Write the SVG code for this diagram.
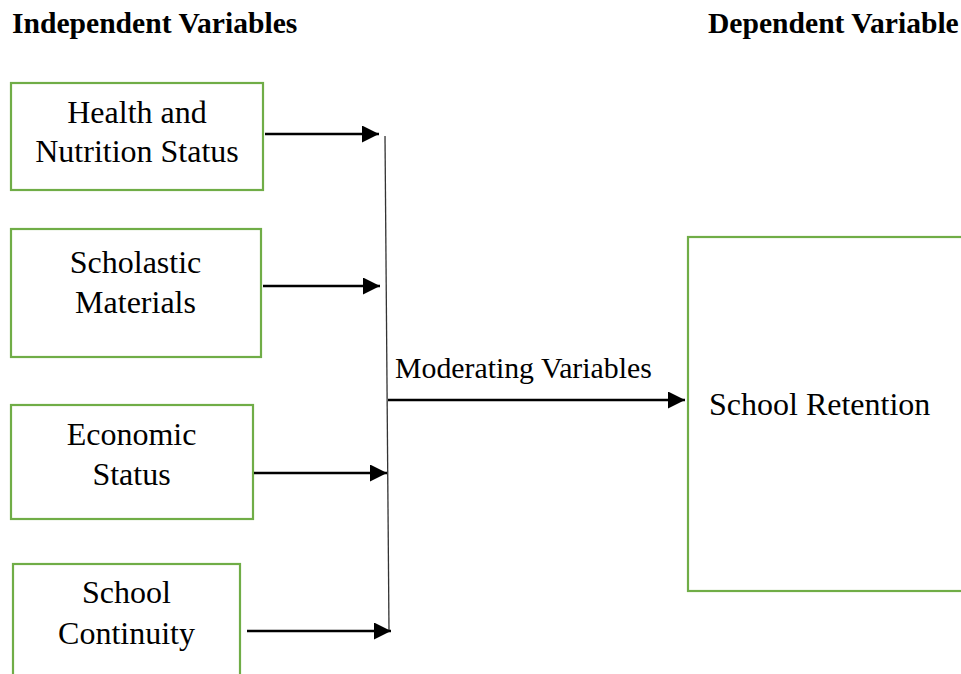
<svg xmlns="http://www.w3.org/2000/svg" width="961" height="674" viewBox="0 0 961 674">
  <style>
    .box { fill: #ffffff; stroke: #70ad47; stroke-width: 2.2; }
    .lbl { font-family: "Liberation Serif", "Times New Roman", serif; font-size: 32px; fill: #000000; text-anchor: middle; }
    .head { font-family: "Liberation Serif", "Times New Roman", serif; font-size: 29.6px; font-weight: bold; fill: #000000; }
    .mod { font-family: "Liberation Serif", "Times New Roman", serif; font-size: 29.8px; fill: #000000; }
    .arrow { stroke: #000000; stroke-width: 2.4; fill: none; marker-end: url(#head); }
    .bar { stroke: #333333; stroke-width: 1.3; fill: none; }
  </style>
  <defs>
    <marker id="head" markerUnits="userSpaceOnUse" markerWidth="18" markerHeight="17" refX="17" refY="8.5" orient="auto">
      <path d="M0,0 L17,8.5 L0,17 Z" fill="#000000"/>
    </marker>
  </defs>

  <rect width="961" height="674" fill="#ffffff"/>

  <!-- column headings -->
  <text class="head" x="12" y="33">Independent Variables</text>
  <text class="head" x="708" y="33">Dependent Variable</text>

  <!-- independent variables -->
  <g id="health">
    <rect class="box" x="11" y="83" width="252" height="107"/>
    <text class="lbl" x="137" y="123">Health and</text>
    <text class="lbl" x="137" y="162">Nutrition Status</text>
  </g>
  <g id="scholastic">
    <rect class="box" x="11" y="229" width="250" height="128"/>
    <text class="lbl" x="135.5" y="273">Scholastic</text>
    <text class="lbl" x="135.5" y="313">Materials</text>
  </g>
  <g id="economic">
    <rect class="box" x="11" y="405" width="242" height="114"/>
    <text class="lbl" x="131.5" y="445">Economic</text>
    <text class="lbl" x="131.5" y="485">Status</text>
  </g>
  <g id="continuity">
    <rect class="box" x="13" y="564" width="227" height="130"/>
    <text class="lbl" x="126.5" y="603">School</text>
    <text class="lbl" x="126.5" y="644">Continuity</text>
  </g>

  <!-- dependent variable -->
  <g id="retention">
    <rect class="box" x="688" y="237" width="290" height="354"/>
    <text class="lbl" x="709" y="415" style="text-anchor: start">School Retention</text>
  </g>

  <!-- moderating label -->
  <g id="moderating">
    <text class="mod" x="395" y="378">Moderating Variables</text>
  </g>

  <!-- connectors -->
  <g id="connectors">
    <line class="bar" x1="385" y1="136" x2="389" y2="631"/>
    <line class="arrow" x1="265" y1="134" x2="379" y2="134"/>
    <line class="arrow" x1="263" y1="286" x2="380" y2="286"/>
    <line class="arrow" x1="254" y1="473" x2="387" y2="473"/>
    <line class="arrow" x1="247" y1="631" x2="391" y2="631"/>
    <line class="arrow" x1="388" y1="400" x2="685" y2="400"/>
  </g>
</svg>
